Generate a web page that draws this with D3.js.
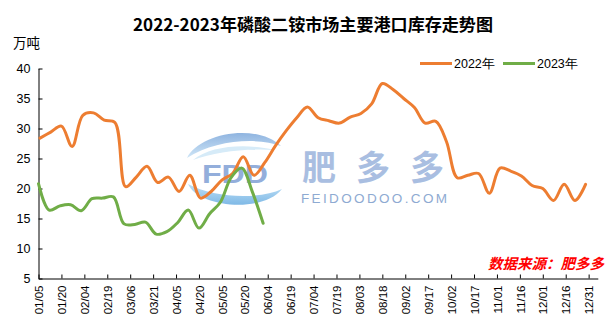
<!DOCTYPE html>
<html><head><meta charset="utf-8">
<script src="https://cdn.jsdelivr.net/npm/d3@7"></script>
<style>
html,body{margin:0;padding:0;background:#fff;}
svg{display:block;}
</style>
</head><body>
<svg id="c" width="616" height="333"></svg>
<script>
// ---- data ----
const title = "2022-2023年磷酸二铵市场主要港口库存走势图";
const unitLabel = "万吨";
const sourceLabel = "数据来源：肥多多";
const seriesNames = ["2022年", "2023年"];
const xTickLabels = ["01/05","01/20","02/04","02/19","03/06","03/21","04/05","04/20","05/05","05/20",
  "06/04","06/19","07/04","07/19","08/03","08/18","09/02","09/17","10/02","10/17",
  "11/01","11/16","12/01","12/16","12/31"];
const yTicks = [5,10,15,20,25,30,35,40];
const start2022 = "2022-01-06"; // weekly observations (Thursdays)
const start2023 = "2023-01-05";
const values2022 = [28.4,29.4,30.4,27.0,32.2,32.6,31.4,31.0,20.3,21.9,
  23.7,21.0,21.9,19.5,22.2,18.4,19.5,21.4,22.5,25.3,
  22.2,24.3,27.1,29.6,31.8,33.6,31.8,31.3,30.9,31.9,
  32.5,34.1,37.5,36.5,35.0,33.5,30.9,31.2,27.8,21.8,
  22.2,22.5,19.2,23.4,22.9,22.1,20.5,20.0,18.0,20.7,
  18.0,20.7];
const values2023 = [20.8,16.4,17.1,17.3,16.3,18.3,18.4,18.6,14.1,14.0,
  14.4,12.4,12.8,14.3,16.4,13.4,15.8,17.7,21.8,23.4,
  19.4,14.2];
const colors = ["#ED7D31", "#70AD47"];

// ---- helpers ----
const parse = d3.utcParse("%Y-%m-%d");
function weekly(startStr, vals) {
  const s = parse(startStr);
  return vals.map((v, i) => {
    const d = d3.utcDay.offset(s, 7 * i);
    // map onto 2022 calendar (same month/day)
    const md = new Date(Date.UTC(2022, d.getUTCMonth(), d.getUTCDate()));
    return { date: md, value: v };
  });
}
const s2022 = weekly(start2022, values2022);
const s2023 = weekly(start2023, values2023);
const tickDates = xTickLabels.map(l => {
  const [m, d] = l.split("/").map(Number);
  return new Date(Date.UTC(2022, m - 1, d));
});

const svg = d3.select("#c");
const x = d3.scaleUtc()
  .domain([new Date(Date.UTC(2022,0,5)), new Date(Date.UTC(2023,0,6))])
  .range([38.5, 597.8]);
const y = d3.scaleLinear().domain([5, 40]).range([278.5, 68.5]);

// ---- watermark ----
const defs = svg.append("defs");
const g1 = defs.append("linearGradient").attr("id","wm1").attr("x1","0").attr("y1","0").attr("x2","0").attr("y2","1");
g1.append("stop").attr("offset","0").attr("stop-color","#8fb4e0");
g1.append("stop").attr("offset","1").attr("stop-color","#cfe6f7");
const g2 = defs.append("linearGradient").attr("id","wm2").attr("x1","0").attr("y1","0").attr("x2","0").attr("y2","1");
g2.append("stop").attr("offset","0").attr("stop-color","#bfe0f6");
g2.append("stop").attr("offset","1").attr("stop-color","#7fb9e6");
const wm = svg.append("g");
wm.append("path").attr("d","M187,158 C198,134 255,122 281,146 C258,137 214,140 187,158 Z").attr("fill","url(#wm1)");
wm.append("path").attr("d","M193,160 C210,146 245,143 274,150 C248,148 215,152 193,160 Z").attr("fill","#d6ebf8");
wm.append("path").attr("d","M188,184 C198,207 262,214 282,189 C258,200 214,198 188,184 Z").attr("fill","url(#wm2)");
wm.append("text").attr("x",235).attr("y",183).attr("text-anchor","middle")
  .attr("font-family","Liberation Sans, Arial, sans-serif").attr("font-weight","bold")
  .attr("font-size",26).attr("fill","#93aedb").attr("textLength",66).attr("lengthAdjust","spacingAndGlyphs")
  .text("FDD");
wm.append("text").attr("x",302).attr("y",180)
  .attr("font-family","Noto Sans CJK SC, sans-serif").attr("font-size",34).attr("font-weight","bold")
  .attr("fill","#a9bee1").attr("textLength",142).attr("lengthAdjust","spacing")
  .text("肥多多");
wm.append("text").attr("x",301).attr("y",203)
  .attr("font-family","Liberation Sans, Arial, sans-serif").attr("font-size",13.5)
  .attr("fill","#8eaad2").attr("textLength",146).attr("lengthAdjust","spacing")
  .text("FEIDOODOO.COM");

// ---- axes ----
const yAxis = d3.axisLeft(y).tickValues(yTicks).tickSizeInner(-4).tickSizeOuter(0).tickPadding(8);
const gy = svg.append("g").attr("transform","translate(38.5,0)").call(yAxis);
gy.selectAll("text").attr("font-family","Liberation Sans, Arial, sans-serif").attr("font-size",12.5).attr("fill","#000");
gy.selectAll("line,path").attr("stroke","#000");

const xAxis = d3.axisBottom(x).tickValues(tickDates).tickFormat((d,i)=>xTickLabels[i])
  .tickSizeInner(-4).tickSizeOuter(0).tickPadding(7);
const gx = svg.append("g").attr("transform","translate(0,278.5)").call(xAxis);
gx.selectAll("line,path").attr("stroke","#000");
gx.selectAll("text")
  .attr("font-family","Liberation Sans, Arial, sans-serif").attr("font-size",11.5).attr("fill","#000")
  .attr("transform","rotate(-90)").attr("x",-7).attr("y",0).attr("dy","0.36em")
  .attr("text-anchor","end");

// ---- lines ----
const line = d3.line().x(d => x(d.date)).y(d => y(d.value)).curve(d3.curveCatmullRom.alpha(0.5));
[s2022, s2023].forEach((s, i) => {
  svg.append("path").datum(s).attr("d", line).attr("fill","none")
    .attr("stroke", colors[i]).attr("stroke-width",3).attr("stroke-linejoin","round").attr("stroke-linecap","round");
});

// ---- texts ----
svg.append("text").attr("x",313).attr("y",31).attr("text-anchor","middle")
  .attr("font-family","Noto Sans CJK SC, sans-serif").attr("font-weight","bold").attr("font-size",17)
  .attr("textLength",360).attr("lengthAdjust","spacingAndGlyphs").text(title);
svg.append("text").attr("x",13).attr("y",48)
  .attr("font-family","Noto Sans CJK SC, sans-serif").attr("font-size",13.5).text(unitLabel);

// legend
const legX = [420, 503];
seriesNames.forEach((n, i) => {
  svg.append("line").attr("x1",legX[i]).attr("x2",legX[i]+32).attr("y1",63.5).attr("y2",63.5)
    .attr("stroke",colors[i]).attr("stroke-width",3);
  svg.append("text").attr("x",legX[i]+34).attr("y",68)
    .attr("font-family","Liberation Sans, Arial, sans-serif").attr("font-size",12.5).text(n);
});

// source
svg.append("text").attr("x",488).attr("y",268.5)
  .attr("font-family","Noto Sans CJK SC, sans-serif").attr("font-size",14.5).attr("font-weight","bold")
  .attr("font-style","italic").attr("fill","#ff0000")
  .attr("textLength",116).attr("lengthAdjust","spacingAndGlyphs")
  .text(sourceLabel);
</script>
</body></html>
